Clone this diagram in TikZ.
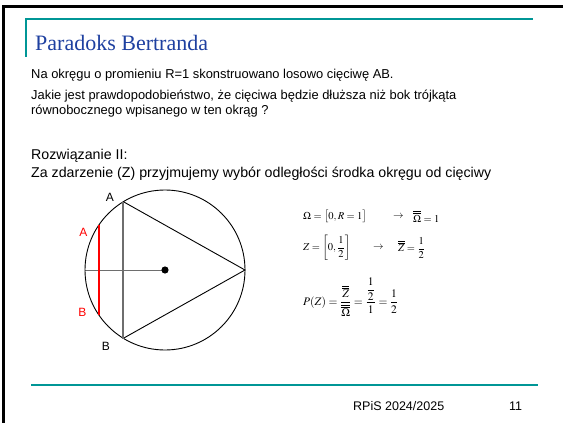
\documentclass[tikz,border=0pt]{standalone}
\usepackage{amsmath}
\usepackage{mathptmx}
\usepackage{fontspec}
\setmainfont{Liberation Sans}
\newfontfamily\titlefont{Liberation Serif}
\definecolor{teal1}{RGB}{0,150,150}
\definecolor{titleblue}{RGB}{30,64,160}
\definecolor{gline}{RGB}{110,110,110}
\tikzset{
  body/.style={anchor=base west,inner sep=0pt,font=\fontsize{12.9}{14}\selectfont},
  bodyb/.style={anchor=base west,inner sep=0pt,font=\fontsize{14.2}{16}\selectfont},
  lbl/.style={inner sep=0pt,font=\fontsize{12}{14}\selectfont},
  eq/.style={anchor=west,inner sep=0pt,font=\fontsize{10.5}{12}\selectfont},
  geo/.style={line width=0.9pt},
}
\begin{document}
\begin{tikzpicture}[x=1pt,y=-1pt]
\useasboundingbox (0,0) rectangle (563,423);
% frame
\fill[black] (2,5) rectangle (563,8);
\fill[black] (2,5) rectangle (5,423);
% teal lines
\draw[teal1,line width=1.3pt] (26,56.5) -- (26,19) -- (533,19);
\draw[teal1,line width=1.3pt] (31,385) -- (538,385);
% title
\node[anchor=base west,inner sep=0pt,text=titleblue,font=\titlefont\fontsize{22}{24}\selectfont] (title) at (35,50) {Paradoks Bertranda};
% body text
\node[body] (t1) at (31,78) {Na okręgu o promieniu R=1 skonstruowano losowo cięciwę AB.};
\node[body] (t2) at (31,99) {Jakie jest prawdopodobieństwo, że cięciwa będzie dłuższa niż bok trójkąta};
\node[body] (t3) at (31,114) {równobocznego wpisanego w ten okrąg ?};
\node[bodyb] (t4) at (31,159) {Rozwiązanie II:};
\node[bodyb] (t5) at (31,177) {Za zdarzenie (Z) przyjmujemy wybór odległości środka okręgu od cięciwy};
% geometry
\coordinate (O) at (165,270);
\coordinate (A) at (123,201.5);
\coordinate (B) at (123,338.5);
\coordinate (C) at (245,270);
\coordinate (L) at (85,270);
\coordinate (rA) at (99,225);
\coordinate (rB) at (99,315);
\draw[gline,line width=0.8pt] (L) -- (O);
\draw[geo] (O) circle (80);
\draw[geo] (A) -- (C) -- (B);
\draw[gline,line width=1.4pt] (A) -- (B);
\draw[red,line width=1.4pt] (rA) -- (rB);
\fill (O) circle (3.6);
\node[lbl] (la) at (110,197) {A};
\node[lbl] (lb) at (106,346) {B};
\node[lbl,text=red] (lra) at (83.5,232) {A};
\node[lbl,text=red] (lrb) at (82.5,312) {B};
% formulas
\node[eq] (e1) at (303,216.5) {$\Omega=\bigl[0,R=1\bigr]$};
\node[eq] (a1) at (393,216.5) {$\rightarrow$};
\node[eq] (e1b) at (413,216.5) {$\overline{\overline{\Omega}}=1$};
\node[eq] (e2) at (303,248) {$Z=\left[0,\dfrac{1}{2}\right]$};
\node[eq] (a2) at (373,248) {$\rightarrow$};
\node[eq] (e2b) at (398,248) {$\overline{\overline{Z}}=\dfrac{1}{2}$};
\node[eq,font=\fontsize{11.5}{13}\selectfont] (e3) at (303,297) {$P(Z)=\dfrac{\overline{\overline{Z}}}{\overline{\overline{\Omega}}}=\dfrac{\dfrac{1}{2}}{1}=\dfrac{1}{2}$};
% footer
\node[anchor=base west,inner sep=0pt,font=\fontsize{12.5}{14}\selectfont] (f1) at (353,410) {RPiS 2024/2025};
\node[anchor=base west,inner sep=0pt,font=\fontsize{12.5}{14}\selectfont] (f2) at (509,410) {11};
\end{tikzpicture}
\end{document}
